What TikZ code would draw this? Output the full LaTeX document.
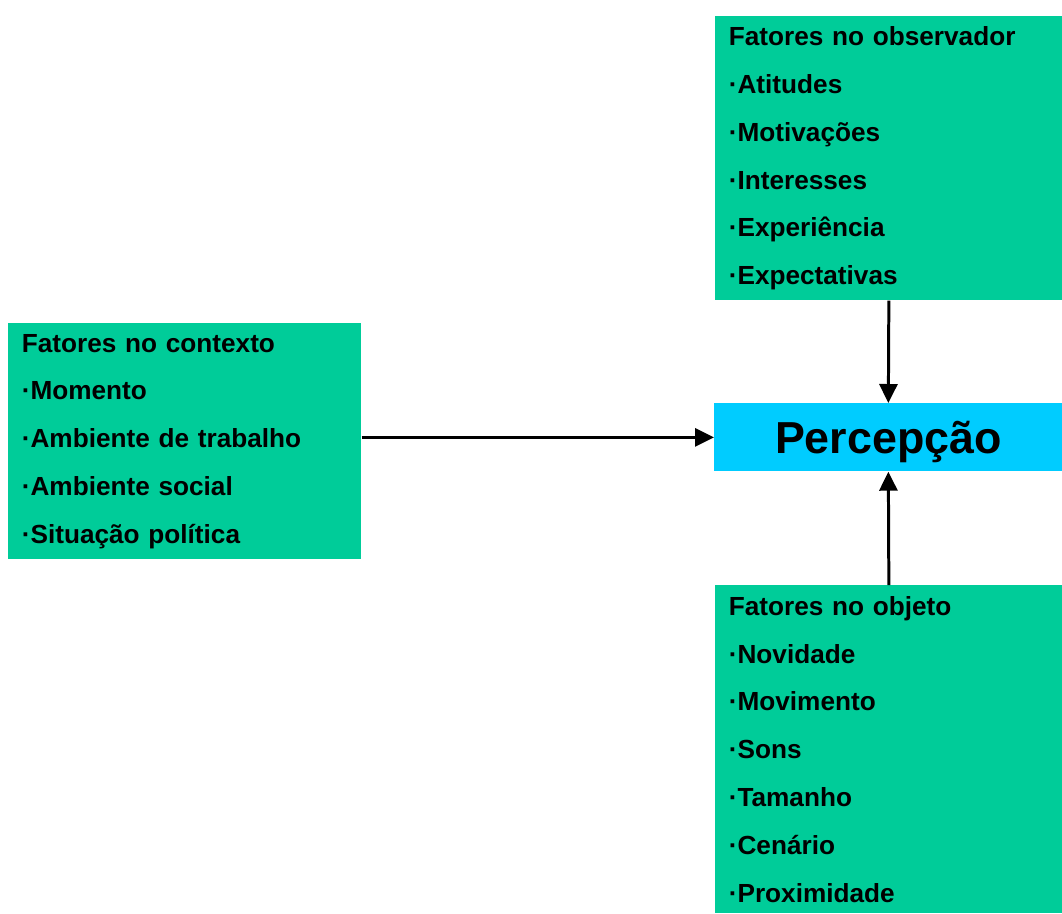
\documentclass[tikz,border=0pt]{standalone}
\usepackage{fontspec}
\setmainfont{Liberation Sans}
\usepackage{tikz}
\usepackage{xcolor}
\usetikzlibrary{positioning, arrows.meta}

\definecolor{fatorgreen}{HTML}{00CC99}
\definecolor{percblue}{HTML}{00CCFF}

\tikzset{
    fator/.style={rectangle, fill=fatorgreen, anchor=north west, align=left, inner xsep=0.27cm, inner ysep=0pt,
        font=\fontsize{14.9pt}{27.2pt}\selectfont\bfseries},
    percnode/.style={rectangle, fill=percblue, anchor=north west, inner sep=0pt, text height=0.64cm, text depth=0cm,
        font=\fontsize{25.5pt}{30pt}\selectfont\bfseries},
    seta/.style={line width=1.7pt, -{Triangle[length=0.38cm, width=0.36cm]}}
}

\begin{document}
\begin{tikzpicture}
    \useasboundingbox (0, 0) rectangle (21.24, -18.26);

    \node[fator, minimum width=6.94cm, minimum height=5.68cm, text width=6.40cm] (obs) at (14.30, -0.32)
        {Fatores no observador\\·Atitudes\\·Motivações\\·Interesses\\·Experiência\\·Expectativas};
    \node[fator, minimum width=7.06cm, minimum height=4.72cm, text width=6.52cm] (ctx) at (0.16, -6.46)
        {Fatores no contexto\\·Momento\\·Ambiente de trabalho\\·Ambiente social\\·Situação política};
    \node[percnode, minimum width=6.96cm, minimum height=1.36cm] (perc) at (14.28, -8.06) {Percepção};
    \node[fator, minimum width=6.94cm, minimum height=6.56cm, text width=6.40cm] (obj) at (14.30, -11.70)
        {Fatores no objeto\\·Novidade\\·Movimento\\·Sons\\·Tamanho\\·Cenário\\·Proximidade};

    \draw[seta] (obs.south) -- (perc.north);
    \draw[seta] (obj.north) -- (perc.south);
    \draw[seta] (ctx.east |- perc.west) -- (perc.west);
\end{tikzpicture}
\end{document}
